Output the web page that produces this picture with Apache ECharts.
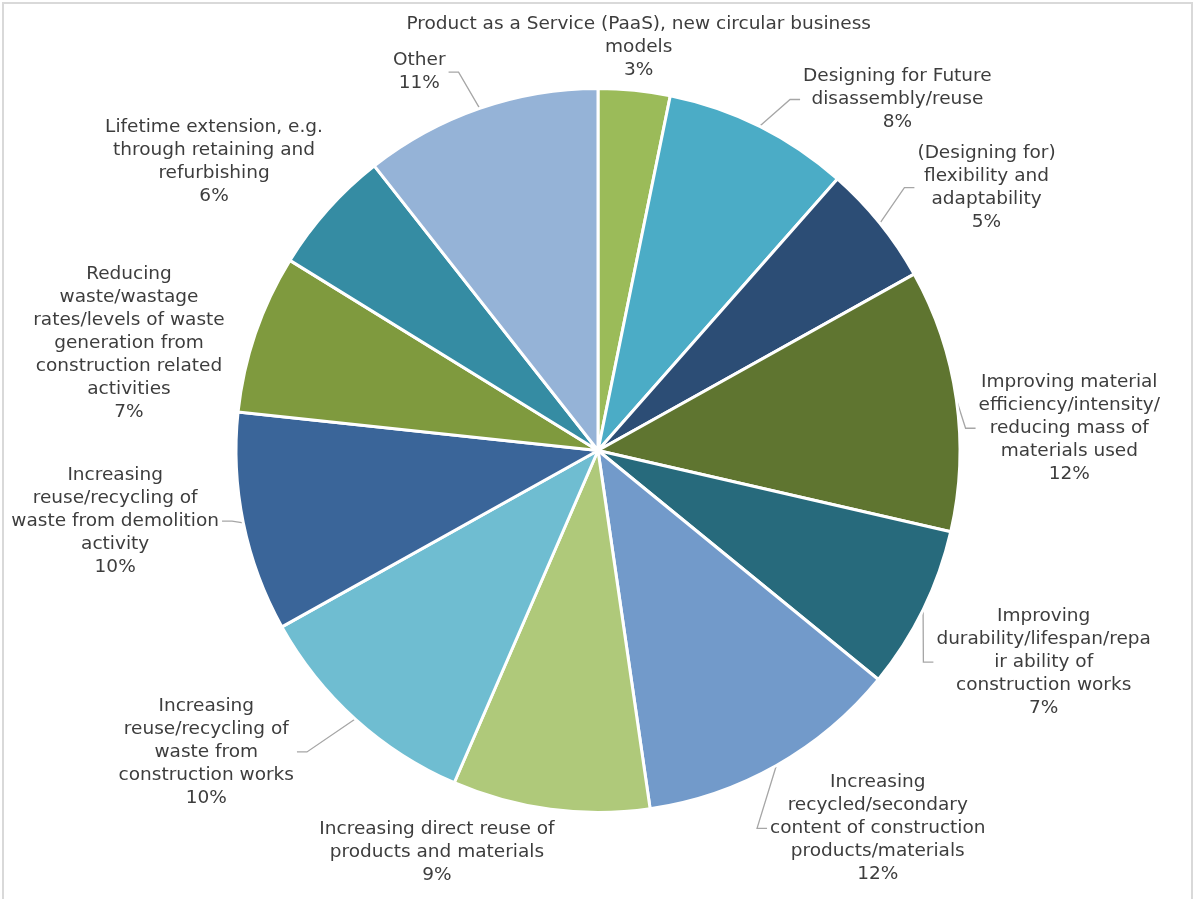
<!DOCTYPE html>
<html>
<head>
<meta charset="utf-8">
<script src="https://cdn.jsdelivr.net/npm/echarts@6/dist/echarts.min.js"></script>
<style>
  html, body { margin: 0; padding: 0; background: #fff; }
  #frame { position: absolute; left: 2px; top: 2px; width: 1187px; height: 940px; border: 2px solid #d9d9d9; }
  #chart { position: absolute; left: 0; top: 0; width: 1193px; height: 899px; }
</style>
</head>
<body>
<div id="frame"></div>
<div id="chart"></div>
<script>
// slice names (wrapped as in the original labels)
var categories = [
    'Product as a Service (PaaS), new circular business\nmodels',
    'Designing for Future\ndisassembly/reuse',
    '(Designing for)\nflexibility and\nadaptability',
    'Improving material\nefficiency/intensity/\nreducing mass of\nmaterials used',
    'Improving\ndurability/lifespan/repa\nir ability of\nconstruction works',
    'Increasing\nrecycled/secondary\ncontent of construction\nproducts/materials',
    'Increasing direct reuse of\nproducts and materials',
    'Increasing\nreuse/recycling of\nwaste from\nconstruction works',
    'Increasing\nreuse/recycling of\nwaste from demolition\nactivity',
    'Reducing\nwaste/wastage\nrates/levels of waste\ngeneration from\nconstruction related\nactivities',
    'Lifetime extension, e.g.\nthrough retaining and\nrefurbishing',
    'Other'
];
// share of responses (%)
var shares = [3.2, 8.3, 5.4, 11.7, 7.3, 11.8, 8.8, 10.4, 9.8, 7.1, 5.6, 10.6];

var colors = ['#9BBB59', '#4BACC6', '#2C4D75', '#5F7530', '#276A7C', '#729ACA',
              '#AFC97A', '#6FBDD1', '#3A6599', '#7F9A3E', '#358CA3', '#95B3D7'];

// label placement: angular nudge (deg), gap from pie edge (px), leader line on/off
var labelShift = [0, 14, 4.8, 5.4, -0.7, -7, 14.3, 10.3, 3.2, -6, -4.8, -6.2];
var labelGap = [9, 54, 25, 19, 12.6, 36.6, 33.4, 38, 21, 21, 42, 31];
var showLeader = [false, true, true, true, true, true, false, true, true, false, false, true];

var CX = 598, CY = 450.5, R = 362;

var total = 0;
shares.forEach(function (v) { total += v; });
var midDeg = [];
var acc = 0;
shares.forEach(function (v) {
    midDeg.push((acc + v / 2) / total * 360);
    acc += v;
});

var data = [];
for (var i = 0; i < shares.length; i++) {
    data.push({ name: categories[i], value: shares[i], itemStyle: { color: colors[i] } });
}

var chart = echarts.init(document.getElementById('chart'));
chart.setOption({
    animation: false,
    series: [{
        type: 'pie',
        center: [CX, CY],
        radius: [0, R],
        startAngle: 90,
        clockwise: true,
        avoidLabelOverlap: false,
        data: data,
        itemStyle: {
            borderColor: '#ffffff',
            borderWidth: 3
        },
        emphasis: { disabled: true },
        label: {
            show: true,
            position: 'outside',
            color: '#3d3d3d',
            fontFamily: '"DejaVu Sans", Verdana, sans-serif',
            fontSize: 18.5,
            lineHeight: 23,
            align: 'center',
            formatter: function (p) {
                return p.name + '\n' + Math.round(p.percent) + '%';
            }
        },
        labelLine: {
            show: true,
            lineStyle: { color: '#A6A6A6', width: 1.3 }
        },
        labelLayout: function (params) {
            var i = params.dataIndex;
            var a = (midDeg[i] + labelShift[i]) * Math.PI / 180;
            var ux = Math.sin(a), uy = -Math.cos(a);
            var w = params.labelRect.width, h = params.labelRect.height;
            var t = Math.min(w / 2 / Math.max(Math.abs(ux), 1e-6), h / 2 / Math.max(Math.abs(uy), 1e-6));
            var d = R + labelGap[i] + t;
            var x = CX + d * ux, y = CY + d * uy;
            var m = midDeg[i] * Math.PI / 180;
            var sx = CX + R * Math.sin(m), sy = CY - R * Math.cos(m);
            var side = x > CX ? -1 : 1;
            var ex = x + side * (w / 2 + 3), ey = y;
            var pts = showLeader[i]
                ? [[sx, sy], [ex + side * 10, ey], [ex, ey]]
                : [[sx, sy], [sx, sy], [sx, sy]];
            return { x: x, y: y, align: 'center', verticalAlign: 'middle', labelLinePoints: pts };
        }
    }]
});
</script>
</body>
</html>
